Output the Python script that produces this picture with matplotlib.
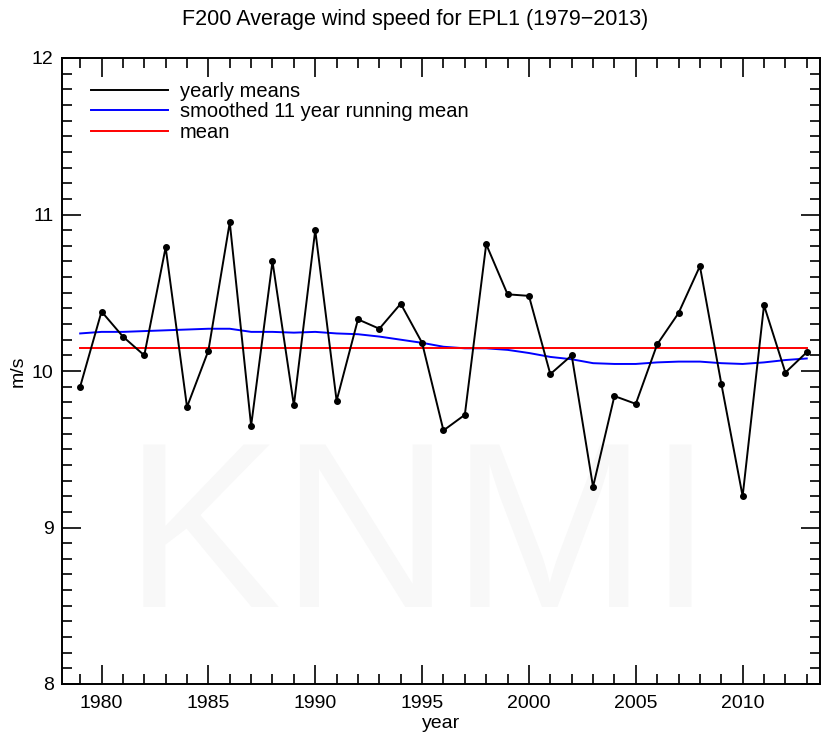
import numpy as np
import matplotlib
matplotlib.use("Agg")
import matplotlib.pyplot as plt
from matplotlib.ticker import MultipleLocator
from matplotlib.lines import Line2D

plt.rcParams['font.family'] = ['Liberation Sans', 'DejaVu Sans']

years = list(range(1979, 2014))
yearly = [9.90, 10.38, 10.22, 10.10, 10.79, 9.77, 10.13, 10.95, 9.65, 10.70,
          9.78, 10.90, 9.81, 10.33, 10.27, 10.43, 10.18, 9.62, 9.72, 10.81,
          10.49, 10.48, 9.98, 10.10, 9.26, 9.84, 9.79, 10.17, 10.37, 10.67,
          9.92, 9.20, 10.42, 9.99, 10.12]
smoothed = [10.24, 10.25, 10.25, 10.255, 10.26, 10.265, 10.27, 10.27, 10.25, 10.25,
            10.245, 10.25, 10.24, 10.235, 10.22, 10.20, 10.18, 10.155, 10.145, 10.145,
            10.135, 10.115, 10.09, 10.075, 10.05, 10.045, 10.045, 10.055, 10.06, 10.06,
            10.05, 10.045, 10.055, 10.07, 10.08]
mean_val = 10.15

fig = plt.figure(figsize=(8.3, 7.41), dpi=100)
ax = fig.add_axes([62/830, 1-684/741, (820-62)/830, (684-58)/741])

# faint watermark
ax.text(0.47, 0.22, "KNMI", transform=ax.transAxes, ha="center", va="center",
        fontsize=170, color="#f8f8f8", zorder=0)

ax.plot(years, yearly, color="black", lw=1.4, marker="o", ms=4, zorder=3)
ax.plot(years, smoothed, color="#0000ff", lw=1.4, zorder=2)
ax.plot([years[0], years[-1]], [mean_val, mean_val], color="#ff0000", lw=1.4, zorder=2)

ax.set_xlim(1978.15, 2013.62)
ax.set_ylim(8, 12)
ax.xaxis.set_major_locator(MultipleLocator(5))
ax.xaxis.set_minor_locator(MultipleLocator(1))
ax.yaxis.set_major_locator(MultipleLocator(1))
ax.yaxis.set_minor_locator(MultipleLocator(0.1))
ax.tick_params(which="both", direction="in", top=True, right=True, width=1.2, labelsize=14)
ax.tick_params(which="major", length=14)
ax.tick_params(which="minor", length=7)
ax.tick_params(axis="x", pad=8)
ax.tick_params(axis="y", pad=6)
for s in ax.spines.values():
    s.set_linewidth(1.4)

ax.set_xlabel("year", fontsize=14, labelpad=2)
ax.set_ylabel("m/s", fontsize=14, labelpad=4)
fig.suptitle("F200 Average wind speed for EPL1 (1979\u22122013)", fontsize=15.5, y=0.988)

handles = [Line2D([], [], color="black", lw=1.4),
           Line2D([], [], color="#0000ff", lw=1.4),
           Line2D([], [], color="#ff0000", lw=1.4)]
labels = ["yearly means", "smoothed 11 year running mean", "mean"]
ax.legend(handles, labels, loc="upper left", frameon=False, fontsize=14.5,
          handlelength=3.8, handletextpad=0.6, labelspacing=0.08,
          borderaxespad=0.0, bbox_to_anchor=(0.028, 0.975))

fig.savefig("out.png", dpi=100)
